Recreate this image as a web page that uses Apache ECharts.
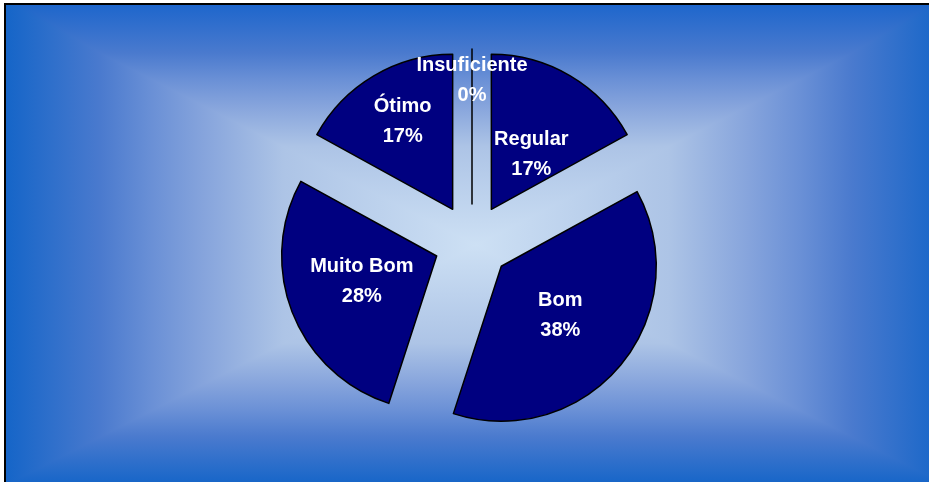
<!DOCTYPE html>
<html>
<head>
<meta charset="utf-8">
<script src="https://cdn.jsdelivr.net/npm/echarts@6/dist/echarts.min.js"></script>
<style>
  html, body { margin: 0; padding: 0; background: #fff; overflow: hidden; }
  #bg {
    position: absolute; left: 4px; top: 3px; width: 940px; height: 480px;
    border-left: 2px solid #000; border-top: 2px solid #000;
    background-image:
      linear-gradient(to right, #1565c8 0%, #4a7ace 20%, #6a90d6 31%, #86a4dc 42%, #adc4e6 59%, #cde0f4 100%),
      linear-gradient(to left, #1565c8 0%, #4a7ace 20%, #6a90d6 31%, #86a4dc 42%, #adc4e6 59%, #cde0f4 100%),
      linear-gradient(to bottom, #1e66cc 0%, #4a7ace 20%, #6a90d6 31%, #86a4dc 42%, #adc4e6 59%, #cde0f4 100%),
      linear-gradient(to top, #1565c8 0%, #4a7ace 20%, #6a90d6 31%, #86a4dc 42%, #adc4e6 59%, #cde0f4 100%);
    background-size: 50% 100%, 50% 100%, 100% 50%, 100% 50%;
    background-position: left top, right top, left top, left bottom;
    background-repeat: no-repeat;
    background-blend-mode: darken;
  }
  #chart { position: absolute; left: 0; top: 0; width: 929px; height: 482px; }
</style>
</head>
<body>
<div id="bg"></div>
<div id="chart"></div>
<script>
const categories = ['Regular', 'Bom', 'Muito Bom', 'Ótimo', 'Insuficiente']
const values = [17, 38, 28, 17, 0]

// nudges so the inside labels sit where the original put them
const labelNudge = {
  'Regular': [-1, 14],
  'Bom': [-3, -2],
  'Muito Bom': [0, -4],
  'Ótimo': [-9, -19],
  'Insuficiente': [0, -43],
}

const sliceStyle = { color: '#000080', borderColor: '#000', borderWidth: 1.5 }

const chart = echarts.init(document.getElementById('chart'), null, { renderer: 'canvas' })

chart.setOption({
  animation: false,
  series: [
    {
      type: 'pie',
      center: [472, 242],
      radius: 155,
      startAngle: 90,
      clockwise: true,
      minShowLabelAngle: -1,
      selectedMode: 'multiple',
      selectedOffset: 38,
      itemStyle: sliceStyle,
      select: { itemStyle: sliceStyle },
      emphasis: { disabled: true },
      label: {
        show: true,
        position: 'inside',
        color: '#fff',
        fontFamily: '"Liberation Sans", Arial, sans-serif',
        fontWeight: 'bold',
        fontSize: 20,
        lineHeight: 30,
        formatter: (p) => p.name + '\n' + Math.round(p.percent) + '%',
      },
      labelLine: { show: false },
      labelLayout: (p) => {
        const n = labelNudge[categories[p.dataIndex]]
        return n ? { dx: n[0], dy: n[1] } : {}
      },
      data: categories.map((name, i) => ({ name, value: values[i], selected: true })),
    },
  ],
})
</script>
</body>
</html>
